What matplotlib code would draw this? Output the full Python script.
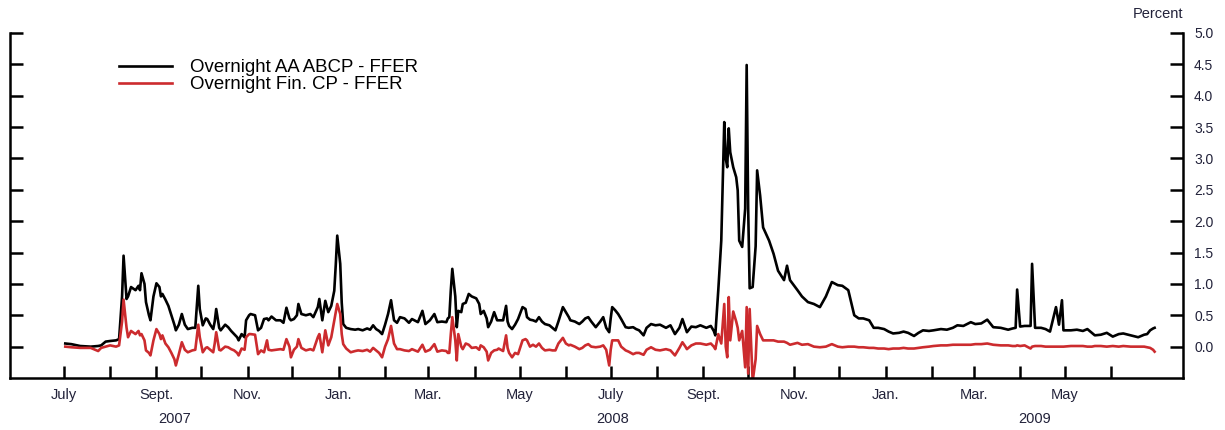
import matplotlib
matplotlib.use('Agg')
from matplotlib import pyplot as plt
from matplotlib.ticker import FixedLocator, FuncFormatter
import matplotlib.dates as mdates
import numpy as np
import pandas as pd

plt.rcParams['font.family'] = ['Liberation Sans', 'DejaVu Sans']

# spread over the fed funds effective rate, percentage points
dates = [
    # 2007
    '2007-07-02', '2007-07-06', '2007-07-12', '2007-07-19', '2007-07-24', '2007-07-26', '2007-07-29',
    '2007-08-01', '2007-08-05', '2007-08-07', '2007-08-09', '2007-08-10', '2007-08-12', '2007-08-13', '2007-08-15', '2007-08-18',
    '2007-08-20', '2007-08-21', '2007-08-22', '2007-08-24', '2007-08-25', '2007-08-27', '2007-08-28', '2007-08-30',
    '2007-09-01', '2007-09-03', '2007-09-04', '2007-09-05', '2007-09-07', '2007-09-09', '2007-09-11', '2007-09-13', '2007-09-14',
    '2007-09-16', '2007-09-18', '2007-09-20', '2007-09-22', '2007-09-25', '2007-09-27', '2007-09-29', '2007-09-30',
    '2007-10-02', '2007-10-04', '2007-10-05', '2007-10-07', '2007-10-09', '2007-10-10', '2007-10-11', '2007-10-13', '2007-10-14',
    '2007-10-17', '2007-10-19', '2007-10-21', '2007-10-23', '2007-10-25', '2007-10-26', '2007-10-28', '2007-10-30', '2007-10-31',
    '2007-11-02', '2007-11-03', '2007-11-06', '2007-11-08', '2007-11-10', '2007-11-12', '2007-11-14', '2007-11-15',
    '2007-11-17', '2007-11-20', '2007-11-23', '2007-11-25', '2007-11-27', '2007-11-29', '2007-11-30',
    '2007-12-02', '2007-12-04', '2007-12-05', '2007-12-07', '2007-12-10', '2007-12-13', '2007-12-15', '2007-12-18',
    '2007-12-19', '2007-12-21', '2007-12-23', '2007-12-25', '2007-12-27', '2007-12-29', '2007-12-30', '2007-12-31',
    # 2008
    '2008-01-02', '2008-01-03', '2008-01-04', '2008-01-06', '2008-01-09', '2008-01-12', '2008-01-14',
    '2008-01-17', '2008-01-20', '2008-01-22', '2008-01-24', '2008-01-26', '2008-01-28', '2008-01-30',
    '2008-02-01', '2008-02-03', '2008-02-05', '2008-02-07', '2008-02-09', '2008-02-11',
    '2008-02-14', '2008-02-17', '2008-02-19', '2008-02-23', '2008-02-26', '2008-02-28',
    '2008-03-02', '2008-03-05', '2008-03-07', '2008-03-10', '2008-03-13', '2008-03-14', '2008-03-15', '2008-03-16', '2008-03-17',
    '2008-03-19', '2008-03-20', '2008-03-21', '2008-03-23', '2008-03-24', '2008-03-26', '2008-03-28', '2008-03-30',
    '2008-04-02', '2008-04-04', '2008-04-05', '2008-04-07', '2008-04-09', '2008-04-10', '2008-04-12', '2008-04-14', '2008-04-16',
    '2008-04-17', '2008-04-20', '2008-04-22', '2008-04-23', '2008-04-24', '2008-04-26', '2008-04-28', '2008-04-30',
    '2008-05-03', '2008-05-05', '2008-05-06', '2008-05-08', '2008-05-10', '2008-05-12', '2008-05-14',
    '2008-05-16', '2008-05-18', '2008-05-21', '2008-05-23', '2008-05-25', '2008-05-27', '2008-05-30',
    '2008-06-01', '2008-06-03', '2008-06-04', '2008-06-07', '2008-06-10', '2008-06-12', '2008-06-14',
    '2008-06-16', '2008-06-18', '2008-06-21', '2008-06-24', '2008-06-26', '2008-06-28', '2008-06-30',
    '2008-07-01', '2008-07-02', '2008-07-04', '2008-07-06', '2008-07-08', '2008-07-11', '2008-07-13',
    '2008-07-16', '2008-07-18', '2008-07-20', '2008-07-23', '2008-07-25', '2008-07-28', '2008-07-31',
    '2008-08-03', '2008-08-07', '2008-08-10', '2008-08-13', '2008-08-16', '2008-08-18',
    '2008-08-20', '2008-08-21', '2008-08-24', '2008-08-27', '2008-08-30',
    '2008-09-03', '2008-09-06', '2008-09-08', '2008-09-09', '2008-09-11', '2008-09-13', '2008-09-15', '2008-09-16', '2008-09-17',
    '2008-09-18', '2008-09-19', '2008-09-21', '2008-09-23', '2008-09-24', '2008-09-25', '2008-09-27', '2008-09-29', '2008-09-30',
    '2008-10-01', '2008-10-02', '2008-10-04', '2008-10-06', '2008-10-07', '2008-10-09', '2008-10-11',
    '2008-10-15', '2008-10-18', '2008-10-21', '2008-10-25', '2008-10-27', '2008-10-29',
    '2008-11-03', '2008-11-06', '2008-11-10', '2008-11-14', '2008-11-18', '2008-11-22', '2008-11-26', '2008-11-30',
    '2008-12-03', '2008-12-07', '2008-12-11', '2008-12-14', '2008-12-17', '2008-12-21', '2008-12-24', '2008-12-27', '2008-12-31',
    # 2009
    '2009-01-03', '2009-01-06', '2009-01-10', '2009-01-13', '2009-01-16', '2009-01-20', '2009-01-23', '2009-01-26', '2009-01-30',
    '2009-02-02', '2009-02-07', '2009-02-11', '2009-02-15', '2009-02-18', '2009-02-22', '2009-02-27',
    '2009-03-02', '2009-03-06', '2009-03-10', '2009-03-14', '2009-03-19', '2009-03-24', '2009-03-27', '2009-03-29', '2009-03-30',
    '2009-04-01', '2009-04-04', '2009-04-08', '2009-04-09', '2009-04-11', '2009-04-15',
    '2009-04-18', '2009-04-21', '2009-04-25', '2009-04-27', '2009-04-29', '2009-04-30',
    '2009-05-05', '2009-05-09', '2009-05-13', '2009-05-16', '2009-05-19', '2009-05-21', '2009-05-25', '2009-05-29',
    '2009-06-02', '2009-06-06', '2009-06-09', '2009-06-14', '2009-06-19', '2009-06-23', '2009-06-25', '2009-06-27', '2009-06-29', '2009-06-30',
]

abcp = [
    # 2007
    0.05, 0.04, 0.01, 0.00, 0.01, 0.02, 0.08,
    0.09, 0.10, 0.12, 0.80, 1.45, 0.76, 0.80, 0.95, 0.90,
    0.97, 0.90, 1.17, 1.00, 0.71, 0.50, 0.42, 0.80,
    1.01, 0.95, 0.80, 0.84, 0.75, 0.65, 0.50, 0.35, 0.26,
    0.35, 0.52, 0.35, 0.28, 0.30, 0.30, 0.97, 0.60,
    0.34, 0.45, 0.44, 0.35, 0.28, 0.40, 0.60, 0.30, 0.26,
    0.35, 0.31, 0.25, 0.20, 0.15, 0.10, 0.20, 0.15, 0.42,
    0.50, 0.52, 0.50, 0.26, 0.30, 0.44, 0.45, 0.42,
    0.48, 0.42, 0.42, 0.38, 0.62, 0.45, 0.42,
    0.44, 0.50, 0.68, 0.52, 0.50, 0.52, 0.47, 0.63,
    0.76, 0.42, 0.73, 0.55, 0.65, 0.89, 1.30, 1.77,
    # 2008
    1.32, 0.70, 0.36, 0.30, 0.28, 0.27, 0.28,
    0.26, 0.29, 0.27, 0.34, 0.28, 0.25, 0.20,
    0.35, 0.52, 0.74, 0.42, 0.38, 0.47,
    0.45, 0.38, 0.44, 0.39, 0.57, 0.36,
    0.42, 0.52, 0.39, 0.40, 0.39, 0.45, 0.47, 0.90, 1.24,
    0.80, 0.31, 0.57, 0.55, 0.68, 0.70, 0.84, 0.80,
    0.77, 0.68, 0.52, 0.57, 0.45, 0.31, 0.40, 0.55, 0.42,
    0.42, 0.42, 0.65, 0.40, 0.33, 0.28, 0.35, 0.44,
    0.63, 0.60, 0.47, 0.43, 0.42, 0.40, 0.47,
    0.40, 0.36, 0.34, 0.30, 0.26, 0.40, 0.63,
    0.55, 0.47, 0.42, 0.40, 0.36, 0.40, 0.45,
    0.47, 0.40, 0.31, 0.40, 0.47, 0.30, 0.23,
    0.45, 0.63, 0.58, 0.52, 0.44, 0.31, 0.30,
    0.31, 0.28, 0.26, 0.18, 0.30, 0.36, 0.34,
    0.35, 0.30, 0.34, 0.20, 0.30, 0.44,
    0.30, 0.23, 0.32, 0.31, 0.34,
    0.30, 0.33, 0.25, 0.18, 0.90, 1.69, 3.58, 3.00, 2.86,
    3.48, 3.10, 2.86, 2.70, 2.49, 1.69, 1.59, 2.20, 4.49,
    2.20, 0.93, 0.95, 1.60, 2.81, 2.41, 1.90,
    1.69, 1.48, 1.21, 1.06, 1.29, 1.06,
    0.90, 0.80, 0.71, 0.68, 0.63, 0.80, 1.03, 0.98,
    0.97, 0.90, 0.50, 0.45, 0.45, 0.42, 0.30, 0.30, 0.28,
    # 2009
    0.24, 0.21, 0.22, 0.24, 0.22, 0.17, 0.22, 0.26, 0.25,
    0.26, 0.28, 0.27, 0.30, 0.34, 0.33, 0.39,
    0.36, 0.37, 0.43, 0.31, 0.30, 0.27, 0.29, 0.30, 0.91,
    0.32, 0.33, 0.33, 1.32, 0.30, 0.30,
    0.28, 0.24, 0.63, 0.35, 0.74, 0.26,
    0.26, 0.27, 0.25, 0.28, 0.22, 0.18, 0.19, 0.22,
    0.16, 0.20, 0.21, 0.18, 0.15, 0.19, 0.20, 0.26, 0.29, 0.30,
]

fin_cp = [
    # 2007
    0.00, -0.01, -0.02, -0.02, -0.07, -0.02, 0.00,
    0.02, 0.00, 0.02, 0.40, 0.75, 0.30, 0.15, 0.25, 0.20,
    0.25, 0.18, 0.20, 0.10, -0.06, -0.10, -0.14, 0.10,
    0.28, 0.20, 0.12, 0.18, 0.05, -0.01, -0.10, -0.20, -0.30,
    -0.12, 0.07, -0.05, -0.09, -0.06, -0.05, 0.35, 0.15,
    -0.09, -0.02, -0.01, -0.05, -0.09, 0.05, 0.23, -0.05, -0.06,
    0.00, -0.01, -0.04, -0.06, -0.10, -0.14, -0.03, -0.05, 0.15,
    0.20, 0.20, 0.19, -0.12, -0.06, -0.09, 0.10, -0.05,
    -0.06, -0.05, -0.04, -0.05, 0.12, 0.00, -0.17,
    -0.05, 0.00, 0.12, -0.02, -0.06, -0.04, -0.06, 0.15,
    0.20, -0.09, 0.26, 0.02, 0.15, 0.42, 0.55, 0.68,
    # 2008
    0.52, 0.20, 0.04, -0.03, -0.09, -0.07, -0.06,
    -0.07, -0.05, -0.08, -0.02, -0.06, -0.10, -0.17,
    0.00, 0.12, 0.33, 0.05, -0.04, -0.04,
    -0.06, -0.07, -0.04, -0.08, 0.03, -0.08,
    -0.05, 0.04, -0.08, -0.06, -0.07, -0.10, -0.10, 0.20, 0.47,
    0.10, -0.22, 0.20, 0.00, -0.04, 0.05, 0.03, -0.02,
    -0.01, -0.05, 0.02, -0.01, -0.08, -0.22, -0.10, -0.06, -0.05,
    -0.03, -0.07, 0.18, -0.02, -0.10, -0.17, -0.10, -0.12,
    0.10, 0.12, 0.10, 0.00, 0.03, 0.00, 0.05,
    -0.02, -0.06, -0.05, -0.06, -0.06, 0.05, 0.14,
    0.05, 0.02, 0.03, 0.00, -0.04, -0.02, 0.02,
    0.04, 0.00, -0.01, 0.00, 0.02, -0.05, -0.30,
    -0.05, 0.10, 0.10, 0.10, 0.00, -0.06, -0.08,
    -0.12, -0.10, -0.10, -0.13, -0.05, -0.01, -0.05,
    -0.06, -0.04, -0.06, -0.14, -0.02, 0.07,
    0.00, -0.04, 0.02, 0.05, 0.05,
    0.03, 0.05, 0.00, -0.04, 0.20, 0.05, 0.68, 0.00, -0.17,
    0.79, 0.10, 0.56, 0.40, 0.30, 0.10, 0.25, -0.33, 0.63,
    -0.43, 0.60, -0.55, -0.20, 0.33, 0.20, 0.10,
    0.10, 0.10, 0.08, 0.08, 0.06, 0.03,
    0.06, 0.03, 0.04, 0.00, -0.01, 0.00, 0.04, 0.00,
    -0.01, 0.00, 0.00, -0.01, -0.01, -0.02, -0.02, -0.03, -0.03,
    # 2009
    -0.04, -0.03, -0.03, -0.02, -0.03, -0.03, -0.02, -0.01, 0.00,
    0.01, 0.02, 0.02, 0.03, 0.03, 0.03, 0.03,
    0.04, 0.04, 0.05, 0.03, 0.02, 0.02, 0.01, 0.01, 0.02,
    0.01, 0.02, -0.03, 0.00, 0.01, 0.01,
    0.00, 0.00, 0.00, 0.00, 0.00, 0.00,
    0.01, 0.01, 0.01, 0.00, 0.00, 0.01, 0.01, 0.00,
    0.01, 0.00, 0.01, 0.00, 0.00, 0.00, -0.01, -0.02, -0.05, -0.08,
]

series_labels = ['Overnight AA ABCP - FFER', 'Overnight Fin. CP - FFER']
month_names = {7: 'July', 9: 'Sept.', 11: 'Nov.', 1: 'Jan.', 3: 'Mar.', 5: 'May'}
years = [2007, 2008, 2009]

text_col = '#22223a'
red = '#cc2b2e'

x = pd.to_datetime(dates)
x_lo, x_hi = pd.Timestamp('2007-05-26'), pd.Timestamp('2009-07-19')
month_ticks = pd.date_range('2007-07-01', '2009-06-01', freq='MS')

fig = plt.figure(figsize=(12.25, 4.3), dpi=100)
ax = fig.add_axes([10 / 1225, 52 / 430, 1173 / 1225, 345 / 430])

l1, = ax.plot(x, abcp, color='black', lw=1.9, label=series_labels[0])
l2, = ax.plot(x, fin_cp, color=red, lw=1.9, label=series_labels[1])

ax.set_xlim(x_lo, x_hi)
ax.set_ylim(-0.5, 5.0)

for s in ['left', 'right', 'bottom']:
    ax.spines[s].set_linewidth(1.8)
ax.spines['top'].set_visible(False)

# y axis: ticks both sides, labels on the right
ax.yaxis.set_major_locator(FixedLocator(np.arange(0, 5.01, 0.5)))
ax.yaxis.set_major_formatter(FuncFormatter(lambda v, p: f'{v:.1f}'))
ax.yaxis.set_minor_locator(FixedLocator([5.0]))
ax.tick_params(axis='y', which='major', direction='in', length=9.5, width=1.8,
               left=True, right=True, labelleft=False, labelright=True,
               labelsize=10, labelcolor=text_col, pad=8)
ax.tick_params(axis='y', which='minor', direction='in', length=16.5, width=1.8,
               left=True, right=True)

# x axis: tick every month, label every other month
ax.xaxis.set_major_locator(FixedLocator(mdates.date2num(month_ticks)))
ax.xaxis.set_major_formatter(FuncFormatter(
    lambda v, p: month_names.get(mdates.num2date(v).month, '')))
ax.tick_params(axis='x', direction='in', length=8.5, width=1.8,
               labelsize=10.5, labelcolor=text_col, pad=7)

# year labels centred on the visible part of each year
for yr in years:
    a = max(x_lo, pd.Timestamp(f'{yr}-01-01'))
    b = min(x_hi, pd.Timestamp(f'{yr + 1}-01-01'))
    mid = a + (b - a) / 2
    ax.text(mid, -0.119, str(yr), transform=ax.get_xaxis_transform(),
            ha='center', va='center', fontsize=10.5, color=text_col)

ax.text(1.0, 1.055, 'Percent', transform=ax.transAxes, ha='right', va='center',
        fontsize=10.5, color=text_col)

ax.legend(handles=[l1, l2], loc='upper left', bbox_to_anchor=(0.093, 0.924),
          frameon=False, fontsize=13.4, handlelength=2.85, handletextpad=0.97,
          labelspacing=0.0, borderpad=0, borderaxespad=0)

fig.savefig('out.png', dpi=100)
plt.close(fig)
